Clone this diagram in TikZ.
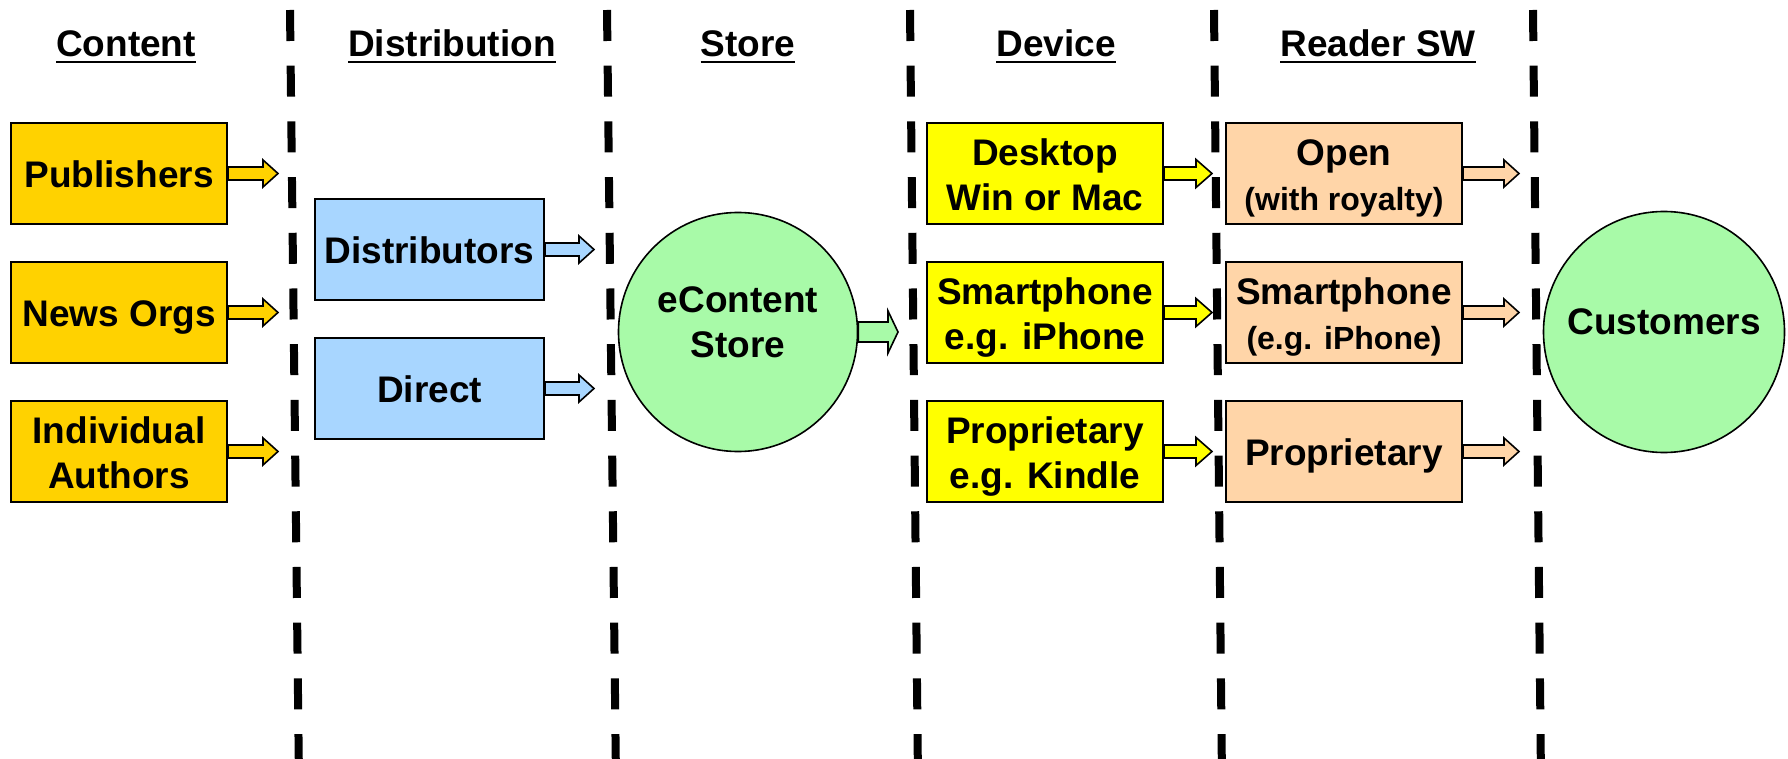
\documentclass[tikz,border=0pt]{standalone}
\usepackage{fontspec}
\setmainfont{Liberation Sans}
\usetikzlibrary{calc}
\definecolor{goldc}{HTML}{FFD200}
\definecolor{bluec}{HTML}{A8D6FF}
\definecolor{greenc}{HTML}{A8FAA8}
\definecolor{yellowc}{HTML}{FFFF00}
\definecolor{peachc}{HTML}{FFD5A8}
\newcommand{\ulhdr}[1]{\setbox0\hbox{#1}\rlap{\copy0}\rule[-3.2pt]{\wd0}{1.3pt}}
\newcommand{\boxtext}[1]{\raisebox{-2.7pt}[\height][\depth]{\begin{tabular}{@{}c@{}}#1\end{tabular}}}
\newcommand{\circtext}[1]{\raisebox{3.2pt}[\height][\depth]{\begin{tabular}{@{}c@{}}#1\end{tabular}}}
\newcommand{\smalltxt}[1]{{\fontsize{16}{19}\selectfont #1}}
\newcommand{\blockarr}[6]{%
  \draw[barrow, fill=#3] let \p1=(#1), \p2=(#2) in
    ({\x1},{\y1+#4}) -- ({\x2-#6},{\y1+#4}) -- ({\x2-#6},{\y1+#5}) -- ({\x2},{\y1})
    -- ({\x2-#6},{\y1-#5}) -- ({\x2-#6},{\y1-#4}) -- ({\x1},{\y1-#4}) -- cycle;}
\tikzset{
  bigfont/.style={font=\bfseries\fontsize{18.5}{22.5}\selectfont},
  box/.style={draw=black, line width=1pt, inner sep=0pt, bigfont},
  contentbox/.style={box, fill=goldc, minimum width=108pt, minimum height=50.5pt},
  distbox/.style={box, fill=bluec, minimum width=114.5pt, minimum height=50.5pt},
  devbox/.style={box, fill=yellowc, minimum width=118pt, minimum height=50.5pt},
  readbox/.style={box, fill=peachc, minimum width=118pt, minimum height=50.5pt},
  bubble/.style={box, circle, fill=greenc, line width=0.8pt},
  hdr/.style={anchor=base, inner sep=0pt, bigfont},
  divider/.style={line width=4pt, dash pattern=on 15.5pt off 12.35pt},
  barrow/.style={draw=black, line width=0.8pt}
}
\begin{document}
\begin{tikzpicture}[x=0.5pt, y=-0.5pt]
\useasboundingbox (0,0) rectangle (1788,759);
% dividers
\coordinate (d1t) at (290,10);  \coordinate (d1b) at (299,780);
\coordinate (d2t) at (607,10);  \coordinate (d2b) at (616,780);
\coordinate (d3t) at (910,10);  \coordinate (d3b) at (918,780);
\coordinate (d4t) at (1214,10); \coordinate (d4b) at (1222,780);
\coordinate (d5t) at (1533,10); \coordinate (d5b) at (1541,780);
\foreach \i in {1,...,5} {\draw[divider] (d\i t) -- (d\i b);}
% headers
\node[hdr] (h1) at (126,57) {\ulhdr{Content}};
\node[hdr] (h2) at (452,57) {\ulhdr{Distribution}};
\node[hdr] (h3) at (748,57) {\ulhdr{Store}};
\node[hdr] (h4) at (1056,57) {\ulhdr{Device}};
\node[hdr] (h5) at (1378,57) {\ulhdr{Reader SW}};
% content
\node[contentbox] (pub) at (119,173.5) {\boxtext{Publishers}};
\node[contentbox] (news) at (119,312.5) {\boxtext{News Orgs}};
\node[contentbox] (auth) at (119,451.5) {\boxtext{Individual\\Authors}};
% distribution
\node[distbox] (dist) at (429.5,249.5) {\boxtext{Distributors}};
\node[distbox] (direct) at (429.5,388.5) {\boxtext{Direct}};
% store
\node[bubble, minimum size=119.5pt] (store) at (738,332) {\circtext{eContent\\Store}};
% device
\node[devbox] (desk) at (1045,173.5) {\boxtext{Desktop\\Win or Mac}};
\node[devbox] (smart) at (1045,312.5) {\boxtext{Smartphone\\e.g. iPhone}};
\node[devbox] (prop) at (1045,451.5) {\boxtext{Proprietary\\e.g. Kindle}};
% reader sw
\node[readbox] (open) at (1344,173.5) {\boxtext{Open\\\smalltxt{(with royalty)}}};
\node[readbox] (rsmart) at (1344,312.5) {\boxtext{Smartphone\\\smalltxt{(e.g. iPhone)}}};
\node[readbox] (rprop) at (1344,451.5) {\boxtext{Proprietary}};
% customers
\node[bubble, minimum size=120.5pt] (cust) at (1664,332) {\circtext{Customers}};
% arrow tips
\coordinate (t1) at (278,173); \coordinate (t2) at (278,312); \coordinate (t3) at (278,451);
\coordinate (t4) at (594,249); \coordinate (t5) at (594,389);
\coordinate (t6) at (898,332);
\coordinate (t7) at (1212,173); \coordinate (t8) at (1212,312); \coordinate (t9) at (1212,451);
\coordinate (t10) at (1519,173); \coordinate (t11) at (1519,312); \coordinate (t12) at (1519,451);
% arrows
\blockarr{pub.east}{t1}{goldc}{3.25pt}{6.75pt}{7.5pt}
\blockarr{news.east}{t2}{goldc}{3.25pt}{6.75pt}{7.5pt}
\blockarr{auth.east}{t3}{goldc}{3.25pt}{6.75pt}{7.5pt}
\blockarr{dist.east}{t4}{bluec}{3.25pt}{6.75pt}{7.5pt}
\blockarr{direct.east}{t5}{bluec}{3.25pt}{6.75pt}{7.5pt}
\blockarr{store.east}{t6}{greenc}{5pt}{10.5pt}{5pt}
\blockarr{desk.east}{t7}{yellowc}{3.25pt}{7pt}{8pt}
\blockarr{smart.east}{t8}{yellowc}{3.25pt}{7pt}{8pt}
\blockarr{prop.east}{t9}{yellowc}{3.25pt}{7pt}{8pt}
\blockarr{open.east}{t10}{peachc}{3.25pt}{6.75pt}{7.5pt}
\blockarr{rsmart.east}{t11}{peachc}{3.25pt}{6.75pt}{7.5pt}
\blockarr{rprop.east}{t12}{peachc}{3.25pt}{6.75pt}{7.5pt}
\end{tikzpicture}
\end{document}
